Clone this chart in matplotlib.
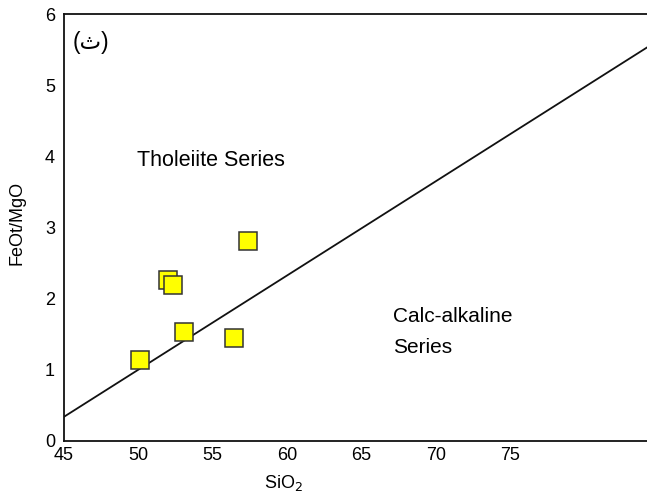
import matplotlib.pyplot as plt

plt.rcParams["font.family"] = ["Liberation Sans", "DejaVu Sans"]

# sample compositions
sio2 = [50.11, 51.99, 52.33, 53.07, 56.43, 57.37]
feot_mgo = [1.14, 2.26, 2.19, 1.53, 1.45, 2.81]

# tholeiite / calc-alkaline divide
divide_x = [45.0, 84.2]
divide_y = [0.34, 5.53]

x_ticks = [45, 50, 55, 60, 65, 70, 75]
y_ticks = [0, 1, 2, 3, 4, 5, 6]

fig = plt.figure(figsize=(6.47, 4.92), dpi=100)
ax = fig.add_axes([0.0989, 0.1037, 0.9011, 0.8678])

ax.plot(divide_x, divide_y, color="#111111", lw=1.3, zorder=2)
for x, y in zip(sio2, feot_mgo):
    ax.plot(x, y, "s", ms=13.5, mfc="#ffff00", mec="#333333", mew=1.1, zorder=3)

ax.set_xlim(45, 84.2)
ax.set_ylim(0, 6)
ax.set_xticks(x_ticks)
ax.set_yticks(y_ticks)
ax.tick_params(length=0, labelsize=13)
ax.tick_params(axis="x", pad=4.5)
ax.tick_params(axis="y", pad=6.5)

ax.spines["right"].set_visible(False)
for s in ("left", "bottom", "top"):
    ax.spines[s].set_linewidth(1.3)
    ax.spines[s].set_color("#111111")

ax.set_xlabel("SiO$_2$", fontsize=13)
ax.xaxis.set_label_coords(0.377, -0.075)
ax.set_ylabel("FeOt/MgO", fontsize=13)
ax.yaxis.set_label_coords(-0.066, 0.51)

ax.text(0.015, 0.961, "(ث)", transform=ax.transAxes, fontsize=16.5,
        va="top", ha="left")
ax.text(0.125, 0.645, "Tholeiite Series", transform=ax.transAxes,
        fontsize=15.5, ha="left", va="baseline")
ax.text(0.565, 0.279, "Calc-alkaline", transform=ax.transAxes,
        fontsize=15, ha="left", va="baseline")
ax.text(0.565, 0.206, "Series", transform=ax.transAxes,
        fontsize=15, ha="left", va="baseline")

fig.savefig("out.png", dpi=100)
